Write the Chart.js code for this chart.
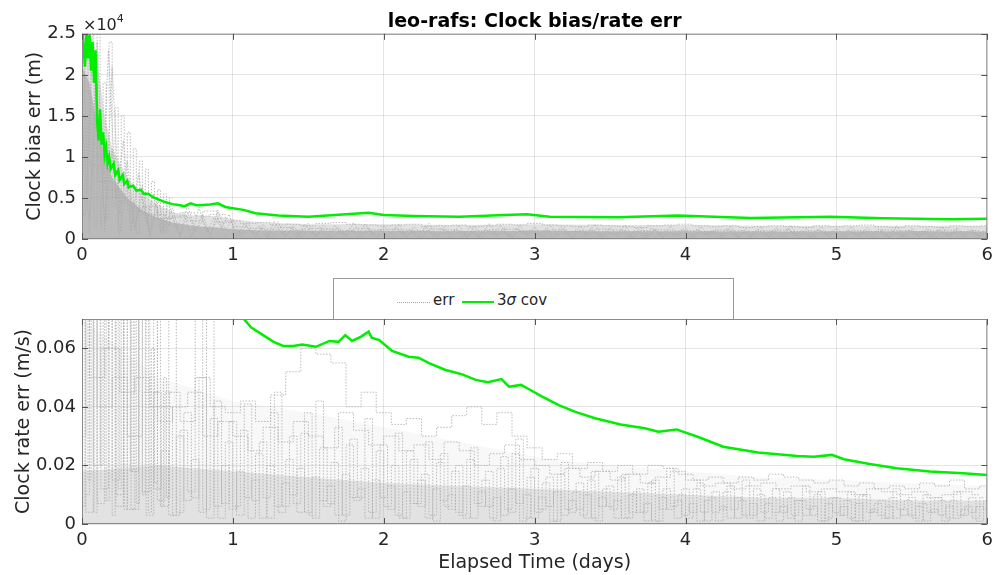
<!DOCTYPE html>
<html>
<head>
<meta charset="utf-8">
<script src="https://cdn.jsdelivr.net/npm/chart.js@4.4.1/dist/chart.umd.min.js"></script>
<style>
  body { margin: 0; background: #fff; width: 999px; height: 575px; overflow: hidden; position: relative; font-family: "DejaVu Sans", sans-serif; color: #262626; }
  .box { position: absolute; left: 0; width: 999px; }
  #topBox { top: 0; height: 265px; }
  #botBox { top: 265px; height: 310px; }
  #expo { position: absolute; left: 83px; top: 14px; font-size: 16px; color: #262626; }
  #expo sup { font-size: 11px; position: relative; top: -2px; }
  #legend { position: absolute; left: 333px; top: 278px; width: 399px; height: 40px; background: #fff; border: 1px solid #9a9a9a; border-bottom: none; font-size: 15px; }
  .item { position: absolute; top: 12px; }
</style>
</head>
<body>
<div class="box" id="topBox"><canvas id="chartBias"></canvas></div>
<div class="box" id="botBox"><canvas id="chartRate"></canvas></div>
<div id="expo">&times;10<sup>4</sup></div>
<div id="legend">
  <div style="position:absolute;left:63px;top:23px;width:33px;border-top:1px dotted #a8a8a8"></div>
  <div class="item" style="left:99px">err</div>
  <div style="position:absolute;left:128px;top:22px;width:32px;border-top:2.5px solid #00ee00"></div>
  <div class="item" style="left:163px">3<i>&sigma;</i> cov</div>
</div>
<script>
// TIME GRIDS (days)
var g1 = [0,0.05,0.1,0.15,0.2,0.25,0.3,0.35,0.4,0.45,
  0.5,0.55,0.6,0.65,0.7,0.75,0.8,0.85,0.9,0.95,
  1,1.05,1.1,1.15,1.2,1.25,1.3,1.35,1.4,1.45,
  1.5,1.55,1.6,1.65,1.7,1.75,1.8,1.85,1.9,1.95,
  2,2.05,2.1,2.15,2.2,2.25,2.3,2.35,2.4,2.45,
  2.5,2.55,2.6,2.65,2.7,2.75,2.8,2.85,2.9,2.95,
  3,3.05,3.1,3.15,3.2,3.25,3.3,3.35,3.4,3.45,
  3.5,3.55,3.6,3.65,3.7,3.75,3.8,3.85,3.9,3.95,
  4,4.05,4.1,4.15,4.2,4.25,4.3,4.35,4.4,4.45,
  4.5,4.55,4.6,4.65,4.7,4.75,4.8,4.85,4.9,4.95,
  5,5.05,5.1,5.15,5.2,5.25,5.3,5.35,5.4,5.45,
  5.5,5.55,5.6,5.65,5.7,5.75,5.8,5.85,5.9,5.95,
  6];
var g2 = [0.025,0.075,0.125,0.175,0.225,0.275,0.325,0.375,0.425,0.475,
  0.525,0.575,0.625,0.675,0.725,0.775,0.825,0.875,0.925,0.975,
  1.025,1.075,1.125,1.175,1.225,1.275,1.325,1.375,1.425,1.475,
  1.525,1.575,1.625,1.675,1.725,1.775,1.825,1.875,1.925,1.975,
  2.025,2.075,2.125,2.175,2.225,2.275,2.325,2.375,2.425,2.475,
  2.525,2.575,2.625,2.675,2.725,2.775,2.825,2.875,2.925,2.975,
  3.025,3.075,3.125,3.175,3.225,3.275,3.325,3.375,3.425,3.475,
  3.525,3.575,3.625,3.675,3.725,3.775,3.825,3.875,3.925,3.975,
  4.025,4.075,4.125,4.175,4.225,4.275,4.325,4.375,4.425,4.475,
  4.525,4.575,4.625,4.675,4.725,4.775,4.825,4.875,4.925,4.975,
  5.025,5.075,5.125,5.175,5.225,5.275,5.325,5.375,5.425,5.475,
  5.525,5.575,5.625,5.675,5.725,5.775,5.825,5.875,5.925,5.975];
var tA = [0,0.1,0.2,0.3,0.4,0.5,0.6,0.7,0.8,0.9,1.0,1.1,1.2,1.3,1.4,1.5,1.6,1.7,1.8,1.9,2.0,2.1,2.2,2.3,2.4,2.5,2.6,2.7,2.8,2.9,3.0,3.1,3.2,3.3,3.4,3.5,3.6,3.7,3.8,3.9,4.0,4.1,4.2,4.3,4.4,4.5,4.6,4.7,4.8,4.9,5.0,5.1,5.2,5.3,5.4,5.5,5.6,5.7,5.8,5.9,6.0];
var tB = [0.05,0.15,0.25,0.35,0.45,0.55,0.65,0.75,0.85,0.95,1.05,1.15,1.25,1.35,1.45,1.55,1.65,1.75,1.85,1.95,2.05,2.15,2.25,2.35,2.45,2.55,2.65,2.75,2.85,2.95,3.05,3.15,3.25,3.35,3.45,3.55,3.65,3.75,3.85,3.95,4.05,4.15,4.25,4.35,4.45,4.55,4.65,4.75,4.85,4.95,5.05,5.15,5.25,5.35,5.45,5.55,5.65,5.75,5.85,5.95];
var tC = [0,0.02,0.04,0.06,0.08,0.1,0.12,0.14,0.16,0.18,0.2,0.22,0.24,0.26,0.28,0.3,0.32,0.34,0.36,0.38,0.4,0.42,0.44,0.46,0.48,0.5,0.52,0.54,0.56,0.58,0.6];

// CLOCK BIAS 3-SIGMA (m)
var biasSigX = [0.00,0.02,0.03,0.04,0.05,0.06,0.07,0.08,0.09,0.10,0.11,0.12,0.13,0.14,0.15,0.16,0.17,0.18,0.19,0.21,0.22,0.24,0.25,0.27,0.28,0.30,0.31,0.34,0.36,0.39,0.41,0.44,0.47,0.51,0.55,0.60,0.64,0.68,0.72,0.76,0.80,0.85,0.90,0.95,1.00,1.07,1.15,1.30,1.50,1.75,1.90,2.00,2.20,2.50,2.80,2.95,3.10,3.55,3.95,4.43,4.96,5.31,5.75,6.00];
var biasSigY = [26000,21000,25500,22000,25000,20500,24000,19000,23000,14500,12000,15800,11500,13000,10200,11200,9200,10000,8500,9200,7800,8400,7200,7800,6700,7100,6300,6500,5900,6000,5500,5500,5100,4800,4500,4250,4150,4000,4350,4100,4150,4200,4350,3900,3750,3550,3150,2850,2720,3010,3210,2930,2800,2720,2930,3010,2720,2640,2850,2560,2720,2520,2400,2480];

// CLOCK BIAS ERR (m) - dense core / halo of all satellites
var bandX = [0,0.05,0.1,0.15,0.2,0.3,0.4,0.5,0.6,0.7,0.8,0.9,1.0,1.2,1.5,2,2.5,3,3.5,4,4.5,5,5.5,6];
var biasCore = [21000,19000,14000,10000,7500,5000,3500,2600,2000,1700,1500,1400,1200,1050,1000,1000,950,1000,950,950,900,900,950,900];
var biasHalo = [25000,25000,22000,15000,11000,7500,5500,4200,3300,2900,2800,2800,2400,2000,1800,1800,1700,1800,1700,1700,1600,1600,1600,1600];

// CLOCK BIAS ERR (m) - individual satellites
var biasErr1 = [27000,2500,24000,900,21000,3000,9500,1200,6500,600,
  5000,1500,3800,400,4200,900,3000,300,3500,1100,
  2400,500,2000,200,1800,700,2100,300,1600,600,
  1900,200,1700,800,1500,300,2000,500,1400,200,
  1600,600,1800,200,1500,700,1900,300,1400,500,
  1700,200,1500,600,1900,400,1400,100,1700,500,
  1500,300,1700,700,1400,100,1600,500,1800,200,
  1400,600,1700,200,1500,400,1300,100,1600,500,
  1400,200,1500,600,1200,300,1600,100,1300,400,
  1500,200,1400,500,1600,100,1300,400,1500,300,
  1300,500,1500,200,1400,600,1200,100,1600,300,
  1400,200,1300,500,1500,100,1400,400,1200,300,
  1400];
var biasErr2 = [3000,26000,1500,23000,5000,12000,800,8000,2000,5500,
  700,4500,1200,3200,200,3900,800,2600,1400,3000,
  300,1900,800,1600,100,2200,600,1500,200,1800,
  700,1500,100,1700,500,1300,200,1800,600,1200,
  200,1400,600,1200,100,1600,400,1300,700,1100,
  300,1500,100,1200,500,1700,200,1300,600,1100,
  400,1300,100,1500,600,1100,200,1400,300,1200,
  500,1100,200,1300,100,1400,600,1000,300,1200,
  100,1200,500,1000,200,1300,400,1100,100,1200,
  600,1000,200,1300,400,1100,100,1200,500,1000,
  200,1100,500,900,100,1200,400,1000,300,1100,
  500,1000,200,1200,400,900,100,1100,300,1000];
var biasErr3 = [15000,600,19000,2000,11000,400,7000,1500,5200,300,
  3600,800,2800,200,3200,1000,2200,500,2600,300,
  1500,200,1200,600,1400,100,1100,500,1300,200,
  1000,400,1200,100,900,500,1100,200,1000,300,
  800,100,1000,400,900,200,1100,300,800,100,
  1000,300,900,100,1100,400,800,200,1000,500,
  900,200,1000,400,800,100,1100,300,900,200,
  800,400,1000,100,900,300,1100,200,800,400,
  1000,100,900,400,800,200,1000,300,900,100,
  800,300,1000,200,900,400,700,100,1000,300,
  900,200,800,400,1000,100,900,300,800,200,
  1000,300,900,100,800,400,1000,200,900,300,
  800];
var biasErrM1 = [18000,9000,6000,4500,3800,3000,2600,3200,2800,3000,
  2200,1900,2000,1700,1800,1600,1900,2000,1800,1700,
  1600,1700,1800,1500,1600,1700,1500,1600,1800,1700,
  1900,1700,1600,1500,1700,1600,1500,1400,1600,1700,
  1800,1600,1500,1600,1400,1500,1600,1500,1400,1600,
  1500,1600,1700,1500,1400,1600,1500,1400,1600,1500,
  1600];
var biasErrM2 = [14000,7000,5000,3500,4000,2500,2800,2200,3400,2000,
  1500,1300,1200,1400,1100,1300,1200,1000,1300,1100,
  1200,1100,1000,1200,1100,900,1000,1100,1200,1000,
  1000,1100,900,1000,1200,1100,900,1000,1100,1000,
  1000,900,1100,1000,900,1000,1100,900,1000,900,
  900,1000,900,1100,1000,900,1000,1100,900,1000];
var biasErrC = [27000,3000,26000,6000,22000,1500,26000,8000,19000,2500,24000,4000,16000,1000,15000,5000,13000,2000,11000,800,9500,3000,8500,1200,7000,2500,6000,900,5500,1800,5000];

// CLOCK RATE 3-SIGMA (m/s)
var rateSigX = [1.07,1.12,1.20,1.27,1.33,1.40,1.46,1.55,1.64,1.70,1.745,1.79,1.85,1.90,1.92,1.97,2.055,2.165,2.23,2.30,2.41,2.52,2.61,2.69,2.78,2.83,2.91,2.96,3.05,3.16,3.27,3.40,3.57,3.73,3.82,3.94,4.08,4.25,4.48,4.74,4.85,4.97,5.05,5.22,5.40,5.62,5.84,6.00];
var rateSigY = [0.0702,0.0672,0.0645,0.0622,0.0609,0.0608,0.0613,0.0605,0.0625,0.0622,0.0645,0.0625,0.064,0.0657,0.0636,0.0628,0.0591,0.0571,0.0568,0.0549,0.0526,0.0511,0.0492,0.0484,0.0495,0.0469,0.0475,0.0461,0.0435,0.0406,0.0383,0.0361,0.034,0.0327,0.0315,0.0323,0.0298,0.0264,0.0244,0.0232,0.023,0.0236,0.0221,0.0205,0.019,0.0179,0.0173,0.0167];

// CLOCK RATE ERR (m/s) - dense core / halo
var rateBandX = [0,0.5,1,1.5,2,2.5,3,3.5,4,4.5,5,5.5,6];
var rateCore = [0.018,0.02,0.018,0.016,0.014,0.013,0.012,0.011,0.01,0.009,0.009,0.008,0.008];
var rateHalo = [0.07,0.05,0.042,0.038,0.033,0.028,0.023,0.02,0.018,0.016,0.015,0.014,0.013];

// CLOCK RATE ERR (m/s) - individual satellites
var rateErr1 = [0.09,0.004,0.09,0.012,0.09,0.006,0.09,0.018,0.09,0.003,
  0.045,0.006,0.09,0.004,0.038,0.009,0.05,0.002,0.042,0.007,
  0.035,0.003,0.041,0.008,0.028,0.002,0.045,0.006,0.03,0.004,
  0.038,0.002,0.026,0.007,0.033,0.003,0.029,0.009,0.036,0.002,
  0.027,0.005,0.031,0.002,0.022,0.006,0.028,0.001,0.024,0.005,
  0.02,0.002,0.026,0.006,0.018,0.001,0.023,0.004,0.029,0.002,
  0.019,0.005,0.016,0.001,0.021,0.004,0.014,0.002,0.018,0.006,
  0.013,0.002,0.017,0.004,0.012,0.001,0.015,0.005,0.019,0.002,
  0.012,0.004,0.014,0.001,0.011,0.005,0.013,0.002,0.015,0.003,
  0.01,0.002,0.012,0.004,0.009,0.001,0.013,0.003,0.011,0.002,
  0.009,0.003,0.011,0.001,0.01,0.004,0.008,0.002,0.012,0.003,
  0.009,0.001,0.01,0.004,0.008,0.002,0.011,0.003,0.009,0.001,
  0.008];
var rateErr2 = [0.01,0.09,0.007,0.09,0.015,0.09,0.005,0.09,0.011,0.09,
  0.008,0.04,0.003,0.032,0.011,0.09,0.005,0.036,0.002,0.028,
  0.006,0.032,0.002,0.024,0.009,0.038,0.004,0.022,0.007,0.031,
  0.003,0.042,0.006,0.021,0.001,0.027,0.008,0.019,0.004,0.025,
  0.006,0.02,0.002,0.025,0.007,0.017,0.003,0.021,0.006,0.018,
  0.003,0.022,0.007,0.015,0.002,0.019,0.005,0.024,0.001,0.016,
  0.004,0.014,0.001,0.017,0.005,0.011,0.003,0.015,0.001,0.012,
  0.005,0.016,0.002,0.011,0.004,0.014,0.001,0.012,0.006,0.01,
  0.002,0.012,0.004,0.009,0.001,0.011,0.005,0.008,0.002,0.012,
  0.004,0.009,0.001,0.011,0.003,0.008,0.005,0.01,0.001,0.009,
  0.003,0.008,0.001,0.01,0.004,0.007,0.002,0.009,0.005,0.008,
  0.002,0.007,0.004,0.009,0.001,0.008,0.003,0.006,0.002,0.009];
var rateErr3 = [0.03,0.09,0.02,0.06,0.09,0.01,0.09,0.005,0.07,0.09,
  0.012,0.025,0.003,0.03,0.008,0.022,0.004,0.09,0.006,0.02,
  0.005,0.018,0.009,0.015,0.002,0.02,0.006,0.014,0.01,0.019,
  0.004,0.016,0.008,0.013,0.003,0.017,0.009,0.012,0.002,0.015,
  0.009,0.013,0.003,0.011,0.007,0.015,0.002,0.012,0.008,0.01,
  0.004,0.013,0.002,0.011,0.006,0.009,0.003,0.012,0.007,0.01,
  0.002,0.009,0.006,0.011,0.003,0.008,0.005,0.01,0.002,0.009,
  0.006,0.008,0.002,0.01,0.004,0.007,0.001,0.009,0.005,0.008,
  0.003,0.007,0.001,0.008,0.004,0.006,0.002,0.009,0.003,0.007,
  0.001,0.007,0.004,0.006,0.002,0.008,0.003,0.006,0.001,0.007,
  0.004,0.006,0.002,0.007,0.001,0.005,0.003,0.006,0.002,0.005,
  0.003,0.006,0.001,0.005,0.003,0.006,0.002,0.005,0.004,0.006,
  0.005];
var rateErrM1 = [0.07,0.05,0.06,0.045,0.05,0.04,0.045,0.035,0.05,0.04,
  0.038,0.042,0.035,0.044,0.052,0.06,0.058,0.055,0.04,0.045,
  0.038,0.034,0.036,0.03,0.033,0.037,0.04,0.034,0.038,0.03,
  0.026,0.022,0.024,0.019,0.021,0.018,0.02,0.017,0.02,0.019,
  0.017,0.015,0.016,0.014,0.016,0.015,0.017,0.016,0.015,0.014,
  0.015,0.013,0.014,0.012,0.013,0.012,0.014,0.013,0.015,0.012,
  0.013];
var rateErrM2 = [0.09,0.04,0.05,0.03,0.045,0.035,0.04,0.045,0.03,0.035,
  0.03,0.025,0.033,0.028,0.035,0.03,0.026,0.038,0.032,0.027,
  0.03,0.025,0.027,0.022,0.028,0.025,0.02,0.024,0.027,0.022,
  0.02,0.017,0.019,0.016,0.018,0.015,0.017,0.014,0.016,0.018,
  0.015,0.013,0.014,0.012,0.013,0.014,0.012,0.013,0.011,0.012,
  0.011,0.01,0.012,0.011,0.01,0.011,0.009,0.01,0.011,0.01];
var rateErrC = [0.09,0.006,0.09,0.015,0.09,0.004,0.09,0.02,0.09,0.008,0.09,0.003,0.09,0.012,0.09,0.005,0.09,0.018,0.09,0.007,0.09,0.01,0.09,0.004,0.06,0.014,0.09,0.006,0.05,0.009,0.045];

var GRAY = '#ababab';
var GREEN = '#00ee00';
var TXT = '#262626';

function pts(xs, ys) {
  return xs.map(function(x, i) { return {x: x, y: ys[i]}; });
}

function errSet(xs, ys, step) {
  return {
    data: pts(xs, ys),
    borderColor: GRAY,
    borderWidth: 0.8,
    borderDash: [1.5, 1.5],
    pointRadius: 0,
    stepped: step,
    order: 1
  };
}

// dense cloud of err samples, drawn as a soft fill under the lines
function bandSet(xs, ys, color) {
  return {
    data: pts(xs, ys),
    borderWidth: 0,
    backgroundColor: color,
    fill: 'origin',
    pointRadius: 0,
    order: 2
  };
}

function sigSet(xs, ys) {
  return {
    data: pts(xs, ys),
    borderColor: GREEN,
    borderWidth: 2.5,
    pointRadius: 0,
    order: 0
  };
}

// box around axes + inward tick marks (matlab look)
var boxPlugin = {
  id: 'boxPlugin',
  afterDatasetsDraw: function(chart) {
    var ctx = chart.ctx, a = chart.chartArea;
    ctx.save();
    ctx.strokeStyle = '#8a8a8a';
    ctx.lineWidth = 1;
    ctx.strokeRect(a.left + 0.5, a.top + 0.5, a.right - a.left - 1, a.bottom - a.top - 1);
    ctx.strokeStyle = '#555';
    ctx.beginPath();
    chart.scales.x.ticks.forEach(function(t) {
      var px = Math.round(chart.scales.x.getPixelForValue(t.value)) + 0.5;
      ctx.moveTo(px, a.bottom); ctx.lineTo(px, a.bottom - 6);
      ctx.moveTo(px, a.top); ctx.lineTo(px, a.top + 6);
    });
    chart.scales.y.ticks.forEach(function(t) {
      var py = Math.round(chart.scales.y.getPixelForValue(t.value)) + 0.5;
      ctx.moveTo(a.left, py); ctx.lineTo(a.left + 6, py);
      ctx.moveTo(a.right, py); ctx.lineTo(a.right - 6, py);
    });
    ctx.stroke();
    ctx.restore();
  }
};

function makeOptions(cfg) {
  return {
    responsive: true,
    maintainAspectRatio: false,
    animation: false,
    layout: { padding: cfg.padding },
    plugins: {
      legend: { display: false },
      tooltip: { enabled: false },
      title: cfg.title
    },
    scales: {
      x: {
        type: 'linear',
        min: 0, max: 6,
        afterFit: function(s) { s.height = cfg.xHeight; },
        grid: { color: 'rgba(0,0,0,0.1)', drawTicks: false },
        border: { display: false },
        ticks: { stepSize: 1, padding: 6, color: TXT, font: { family: 'DejaVu Sans', size: 18 } },
        title: cfg.xTitle
      },
      y: {
        min: 0, max: cfg.yMax,
        afterFit: function(s) { s.width = 82; },
        grid: { color: 'rgba(0,0,0,0.1)', drawTicks: false },
        border: { display: false },
        ticks: { stepSize: cfg.yStep, includeBounds: false, padding: 6, color: TXT, font: { family: 'DejaVu Sans', size: 18 }, callback: cfg.yFmt },
        title: { display: true, text: cfg.yTitle, color: TXT, font: { family: 'DejaVu Sans', size: 19 }, padding: { top: cfg.yTitlePad, bottom: 0 } }
      }
    }
  };
}

new Chart(document.getElementById('chartBias'), {
  type: 'line',
  data: {
    datasets: [
      sigSet(biasSigX, biasSigY),
      bandSet(bandX, biasHalo, 'rgba(170,170,170,0.35)'),
      bandSet(bandX, biasCore, 'rgba(170,170,170,0.7)'),
      errSet(g1, biasErr1, false),
      errSet(g2, biasErr2, false),
      errSet(g1, biasErr3, false),
      errSet(tA, biasErrM1, 'middle'),
      errSet(tB, biasErrM2, 'middle'),
      errSet(tC, biasErrC, 'after')
    ]
  },
  options: makeOptions({
    padding: { left: 0, right: 8, top: 0, bottom: 0 },
    xHeight: 26,
    yMax: 25000,
    yStep: 5000,
    yFmt: function(v) { return v === 0 ? '0' : String(v / 10000); },
    yTitle: 'Clock bias err (m)',
    yTitlePad: 24,
    xTitle: { display: false },
    title: { display: true, fullSize: false, text: 'leo-rafs: Clock bias/rate err', color: '#000', font: { family: 'DejaVu Sans', size: 19, weight: 'bold' }, padding: { top: 11, bottom: 0 } }
  }),
  plugins: [boxPlugin]
});

new Chart(document.getElementById('chartRate'), {
  type: 'line',
  data: {
    datasets: [
      sigSet(rateSigX, rateSigY),
      bandSet(rateBandX, rateHalo, 'rgba(170,170,170,0.08)'),
      bandSet(rateBandX, rateCore, 'rgba(170,170,170,0.28)'),
      errSet(g1, rateErr1, 'middle'),
      errSet(g2, rateErr2, 'middle'),
      errSet(g1, rateErr3, 'middle'),
      errSet(tA, rateErrM1, 'middle'),
      errSet(tB, rateErrM2, 'middle'),
      errSet(tC, rateErrC, 'after')
    ]
  },
  options: makeOptions({
    padding: { left: 0, right: 8, top: 54, bottom: 0 },
    xHeight: 51,
    yMax: 0.07,
    yStep: 0.02,
    yFmt: function(v) { return v === 0 ? '0' : v.toFixed(2); },
    yTitle: 'Clock rate err (m/s)',
    yTitlePad: 13,
    xTitle: { display: true, text: 'Elapsed Time (days)', color: TXT, font: { family: 'DejaVu Sans', size: 19 }, padding: { top: 0, bottom: 1 } },
    title: { display: false }
  }),
  plugins: [boxPlugin]
});
</script>
</body>
</html>
